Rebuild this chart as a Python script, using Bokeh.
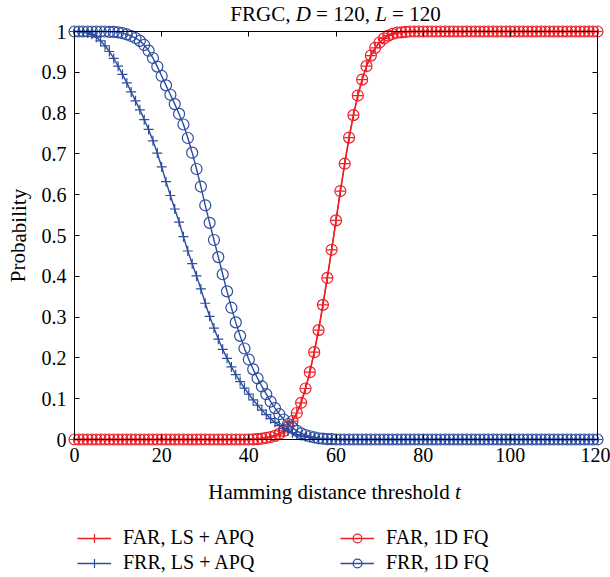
from bokeh.plotting import figure
from bokeh.models import Label, Legend, LegendItem, LinearAxis, FixedTicker, Range1d
from bokeh.embed import file_html
from bokeh.resources import INLINE

# ---------------- data ----------------
t_values = list(range(0, 121))

far_1d_fq = [
    0, 0, 0, 0, 0, 0, 0, 0, 0, 0,
    0, 0, 0, 0, 0, 0, 0, 0, 0, 0,
    0, 0, 0, 0, 0, 0, 0, 0, 0, 0,
    0, 0, 0, 0, 0, 0, 0, 0, 0, 0,
    0, 0.0005, 0.001, 0.002, 0.004, 0.006, 0.009, 0.014, 0.021, 0.031,
    0.045, 0.065, 0.090, 0.125, 0.165, 0.214, 0.268, 0.330, 0.396, 0.465,
    0.537, 0.609, 0.676, 0.740, 0.795, 0.843, 0.882, 0.915, 0.941, 0.960,
    0.973, 0.983, 0.990, 0.994, 0.997, 0.998, 0.999, 1, 1, 1,
    1, 1, 1, 1, 1, 1, 1, 1, 1, 1,
    1, 1, 1, 1, 1, 1, 1, 1, 1, 1,
    1, 1, 1, 1, 1, 1, 1, 1, 1, 1,
    1, 1, 1, 1, 1, 1, 1, 1, 1, 1, 1,
]

far_ls_apq = [
    0, 0, 0, 0, 0, 0, 0, 0, 0, 0,
    0, 0, 0, 0, 0, 0, 0, 0, 0, 0,
    0, 0, 0, 0, 0, 0, 0, 0, 0, 0,
    0, 0, 0, 0, 0, 0, 0, 0, 0, 0,
    0, 0.0005, 0.001, 0.002, 0.004, 0.006, 0.009, 0.014, 0.021, 0.031,
    0.045, 0.065, 0.090, 0.125, 0.165, 0.214, 0.268, 0.330, 0.396, 0.465,
    0.537, 0.609, 0.676, 0.740, 0.795, 0.843, 0.882, 0.915, 0.941, 0.960,
    0.973, 0.983, 0.990, 0.994, 0.997, 0.998, 0.999, 1, 1, 1,
    1, 1, 1, 1, 1, 1, 1, 1, 1, 1,
    1, 1, 1, 1, 1, 1, 1, 1, 1, 1,
    1, 1, 1, 1, 1, 1, 1, 1, 1, 1,
    1, 1, 1, 1, 1, 1, 1, 1, 1, 1, 1,
]

frr_ls_apq = [
    1, 1, 0.999, 0.997, 0.993, 0.986, 0.977, 0.965, 0.951, 0.934,
    0.915, 0.895, 0.874, 0.852, 0.830, 0.808, 0.784, 0.760, 0.732, 0.702,
    0.668, 0.632, 0.598, 0.565, 0.533, 0.497, 0.462, 0.431, 0.401, 0.369,
    0.334, 0.302, 0.273, 0.246, 0.221, 0.199, 0.178, 0.159, 0.142, 0.126,
    0.111, 0.097, 0.084, 0.072, 0.061, 0.051, 0.042, 0.034, 0.027, 0.021,
    0.016, 0.012, 0.009, 0.007, 0.005, 0.003, 0.002, 0.001, 0.001, 0.0005,
    0, 0, 0, 0, 0, 0, 0, 0, 0, 0,
    0, 0, 0, 0, 0, 0, 0, 0, 0, 0,
    0, 0, 0, 0, 0, 0, 0, 0, 0, 0,
    0, 0, 0, 0, 0, 0, 0, 0, 0, 0,
    0, 0, 0, 0, 0, 0, 0, 0, 0, 0,
    0, 0, 0, 0, 0, 0, 0, 0, 0, 0, 0,
]

frr_1d_fq = [
    1, 1, 1, 1, 1, 1, 1, 1, 0.999, 0.999,
    0.998, 0.996, 0.993, 0.989, 0.984, 0.977, 0.967, 0.953, 0.935, 0.914,
    0.891, 0.868, 0.845, 0.822, 0.798, 0.772, 0.739, 0.703, 0.663, 0.620,
    0.574, 0.531, 0.489, 0.447, 0.405, 0.363, 0.323, 0.287, 0.254, 0.223,
    0.196, 0.172, 0.150, 0.130, 0.111, 0.093, 0.077, 0.062, 0.049, 0.038,
    0.029, 0.021, 0.015, 0.011, 0.008, 0.005, 0.003, 0.002, 0.001, 0.001,
    0, 0, 0, 0, 0, 0, 0, 0, 0, 0,
    0, 0, 0, 0, 0, 0, 0, 0, 0, 0,
    0, 0, 0, 0, 0, 0, 0, 0, 0, 0,
    0, 0, 0, 0, 0, 0, 0, 0, 0, 0,
    0, 0, 0, 0, 0, 0, 0, 0, 0, 0,
    0, 0, 0, 0, 0, 0, 0, 0, 0, 0, 0,
]

x_ticks = [0, 20, 40, 60, 80, 100, 120]
y_ticks = [0, 0.1, 0.2, 0.3, 0.4, 0.5, 0.6, 0.7, 0.8, 0.9, 1]
y_tick_labels = ["0", "0.1", "0.2", "0.3", "0.4", "0.5", "0.6", "0.7", "0.8", "0.9", "1"]

series_labels = ["FAR, LS + APQ", "FRR, LS + APQ", "FAR, 1D FQ", "FRR, 1D FQ"]

# ---------------- layout / styling ----------------
RED = "#EC1F26"
BLUE = "#2C4C9E"
FONT = "Liberation Serif"

W, H = 610, 577
# pixel position of the data box inside the canvas
FX0, FX1 = 74, 597      # x = 0 .. 120
FY1, FY0 = 31, 439      # y = 1 .. 0
XMAX, YMAX = 120.0, 1.0
ppx = (FX1 - FX0) / XMAX
ppy = (FY0 - FY1) / YMAX


def dx(px):
    return (px - FX0) / ppx


def dy(py):
    return (FY0 - py) / ppy


p = figure(width=W, height=H,
           x_range=Range1d(dx(0), dx(W)), y_range=Range1d(dy(H), dy(0)),
           x_axis_location=None, y_axis_location=None,
           output_backend="svg", toolbar_location=None,
           min_border_left=0, min_border_right=0, min_border_top=0, min_border_bottom=0)
p.xgrid.visible = False
p.ygrid.visible = False
p.outline_line_color = None
p.background_fill_color = "white"
p.border_fill_color = "white"

xt = FixedTicker(ticks=x_ticks)
yt = FixedTicker(ticks=y_ticks)


def make_axis(ticker, fixed, bounds, show_labels):
    ax = LinearAxis(ticker=ticker, fixed_location=fixed, bounds=bounds,
                    major_tick_in=5, major_tick_out=0, minor_tick_in=0, minor_tick_out=0,
                    axis_line_color="black", axis_line_width=1,
                    major_tick_line_color="black", major_tick_line_width=1,
                    major_label_text_font=FONT, major_label_text_font_size="20px",
                    major_label_standoff=8)
    if show_labels:
        ax.major_label_text_color = "black"
    else:
        ax.major_label_text_color = None
    return ax


ax_bottom = make_axis(xt, 0, (0, XMAX), True)
ax_left = make_axis(yt, 0, (0, YMAX), True)
ax_left.major_label_overrides = {v: s for v, s in zip(y_ticks, y_tick_labels)}
ax_top = make_axis(xt, YMAX, (0, XMAX), False)
ax_right = make_axis(yt, XMAX, (0, YMAX), False)
p.add_layout(ax_bottom, "below")
p.add_layout(ax_left, "left")
p.add_layout(ax_top, "above")
p.add_layout(ax_right, "right")

# ---------------- series ----------------
lw = 1.4
l_far_ls = p.line(t_values, far_ls_apq, line_color=RED, line_width=lw)
s_far_ls = p.scatter(t_values, far_ls_apq, marker="cross", size=10, line_color=RED, line_width=1.2)
l_far_1d = p.line(t_values, far_1d_fq, line_color=RED, line_width=lw)
s_far_1d = p.scatter(t_values, far_1d_fq, marker="circle", size=11, line_color=RED,
                     fill_color=None, line_width=1.2)
l_frr_ls = p.line(t_values, frr_ls_apq, line_color=BLUE, line_width=lw)
s_frr_ls = p.scatter(t_values, frr_ls_apq, marker="cross", size=10, line_color=BLUE, line_width=1.2)
l_frr_1d = p.line(t_values, frr_1d_fq, line_color=BLUE, line_width=lw)
s_frr_1d = p.scatter(t_values, frr_1d_fq, marker="circle", size=11, line_color=BLUE,
                     fill_color=None, line_width=1.2)

legend = Legend(items=[
    LegendItem(label=series_labels[0], renderers=[l_far_ls, s_far_ls]),
    LegendItem(label=series_labels[1], renderers=[l_frr_ls, s_frr_ls]),
    LegendItem(label=series_labels[2], renderers=[l_far_1d, s_far_1d]),
    LegendItem(label=series_labels[3], renderers=[l_frr_1d, s_frr_1d]),
], location=(77, 3), orientation="vertical", ncols=2,
    label_text_font=FONT, label_text_font_size="20px", label_text_color="black",
    glyph_width=34, glyph_height=22, label_height=23, label_standoff=12,
    label_width=215, spacing=2, padding=0, margin=0,
    border_line_color=None, background_fill_alpha=0)
p.add_layout(legend)

# ---------------- texts (title / axis labels) ----------------


def composite(pieces, size, py, center_px):
    total = pieces[-1][3]
    start = -total * size / 2.0
    for txt, italic, off_em, _ in pieces:
        p.add_layout(Label(x=dx(center_px), y=dy(py), x_offset=start + off_em * size,
                           text=txt, text_font=FONT, text_font_size=f"{size}px",
                           text_font_style="italic" if italic else "normal",
                           text_color="black", text_align="left",
                           text_baseline="middle"))


title_pieces = [("FRGC,", False, 0.0, 10.018), ("D", True, 3.112, 10.018),
                ("= 120,", False, 4.084, 10.018), ("L", True, 6.898, 10.018),
                ("= 120", False, 7.704, 10.018)]
composite(title_pieces, 21, 13, 335)

xlabel_pieces = [("Hamming distance threshold", False, 0.0, 12.027),
                 ("t", True, 11.749, 12.027)]
composite(xlabel_pieces, 21, 491, 334)

p.add_layout(Label(x=dx(18), y=dy(235), text="Probability",
                   text_font=FONT, text_font_size="21px", text_color="black",
                   angle=1.5707963, text_align="center", text_baseline="middle"))

open("out.html", "w").write(file_html(p, INLINE))
